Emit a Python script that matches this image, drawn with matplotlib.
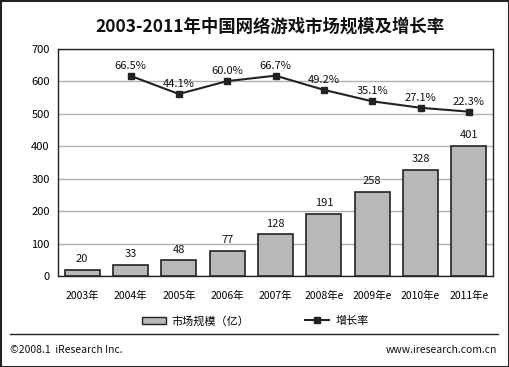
import matplotlib
matplotlib.use("Agg")
import matplotlib.pyplot as plt
from matplotlib.patches import Rectangle
from matplotlib.lines import Line2D

plt.rcParams['font.family'] = ['Noto Sans CJK SC', 'DejaVu Sans']

categories = ['2003年', '2004年', '2005年', '2006年', '2007年', '2008年e', '2009年e', '2010年e', '2011年e']
market = [20, 33, 48, 77, 128, 191, 258, 328, 401]
rate_cats = categories[1:]
rate = [66.5, 44.1, 60.0, 66.7, 49.2, 35.1, 27.1, 22.3]

W, H = 510, 367
fig = plt.figure(figsize=(W / 100, H / 100), dpi=100)
ax = fig.add_axes([58 / W, 1 - 276 / H, 435 / W, 227 / H])

x = list(range(len(categories)))
ax.bar(x, market, width=0.72, color='#b8b8b8', edgecolor='#222222', linewidth=1.2, zorder=3)
for xi, v in zip(x, market):
    ax.text(xi, v + 18, str(v), ha='center', va='bottom', fontsize=8, color='#111111')

ax.set_xlim(-0.5, len(categories) - 0.5)
ax.set_ylim(0, 700)
ax.set_yticks(range(0, 701, 100))
ax.yaxis.grid(True, color='#b0b0b0', linewidth=1.0, zorder=0)
ax.set_xticks(x)
ax.set_xticklabels(categories, fontsize=7.5)
ax.tick_params(axis='both', length=0, labelsize=8, pad=6)
ax.tick_params(axis='x', pad=11, labelsize=7.5)
for s in ax.spines.values():
    s.set_color('#222222')
    s.set_linewidth(1.0)

ax2 = ax.twinx()
ax2.set_ylim(-180.4, 99.6)
xr = [categories.index(c) for c in rate_cats]
ax2.plot(xr, rate, color='#222222', linewidth=1.5, marker='s', markersize=5, zorder=5)
for xi, r in zip(xr, rate):
    ax2.text(xi, r + 6, f'{r:.1f}%', ha='center', va='bottom', fontsize=8, color='#111111')
ax2.set_yticks([])
for s in ax2.spines.values():
    s.set_visible(False)

fig.text(270 / W, 1 - 27 / H, '2003-2011年中国网络游戏市场规模及增长率', ha='center', va='center',
         fontsize=12.5, fontweight='bold', color='#111111')

# legend
handles = [Rectangle((0, 0), 1, 1, facecolor='#b8b8b8', edgecolor='#222222', linewidth=1.0),
           Line2D([0], [0], color='#222222', linewidth=1.5, marker='s', markersize=4)]
fig.legend(handles, ['市场规模（亿）', '增长率'], loc='center', bbox_to_anchor=(255 / W, 1 - 321 / H),
           ncol=2, frameon=False, fontsize=8, columnspacing=5, handlelength=2.2, handletextpad=0.5)

# footer line
fig.add_artist(Line2D([10 / W, 498 / W], [1 - 334 / H, 1 - 334 / H], color='#222222', linewidth=1.0))
fig.text(10 / W, 1 - 350 / H, '©2008.1  iResearch Inc.', ha='left', va='center', fontsize=7.5, color='#111111')
fig.text(497 / W, 1 - 350 / H, 'www.iresearch.com.cn', ha='right', va='center', fontsize=7.5, color='#111111')

# image border
fig.add_artist(Rectangle((0.5 / W, 0.5 / H), 1 - 1.5 / W, 1 - 1.5 / H, transform=fig.transFigure,
                         fill=False, edgecolor='#222222', linewidth=1.5))

fig.savefig('out.png', dpi=100)
